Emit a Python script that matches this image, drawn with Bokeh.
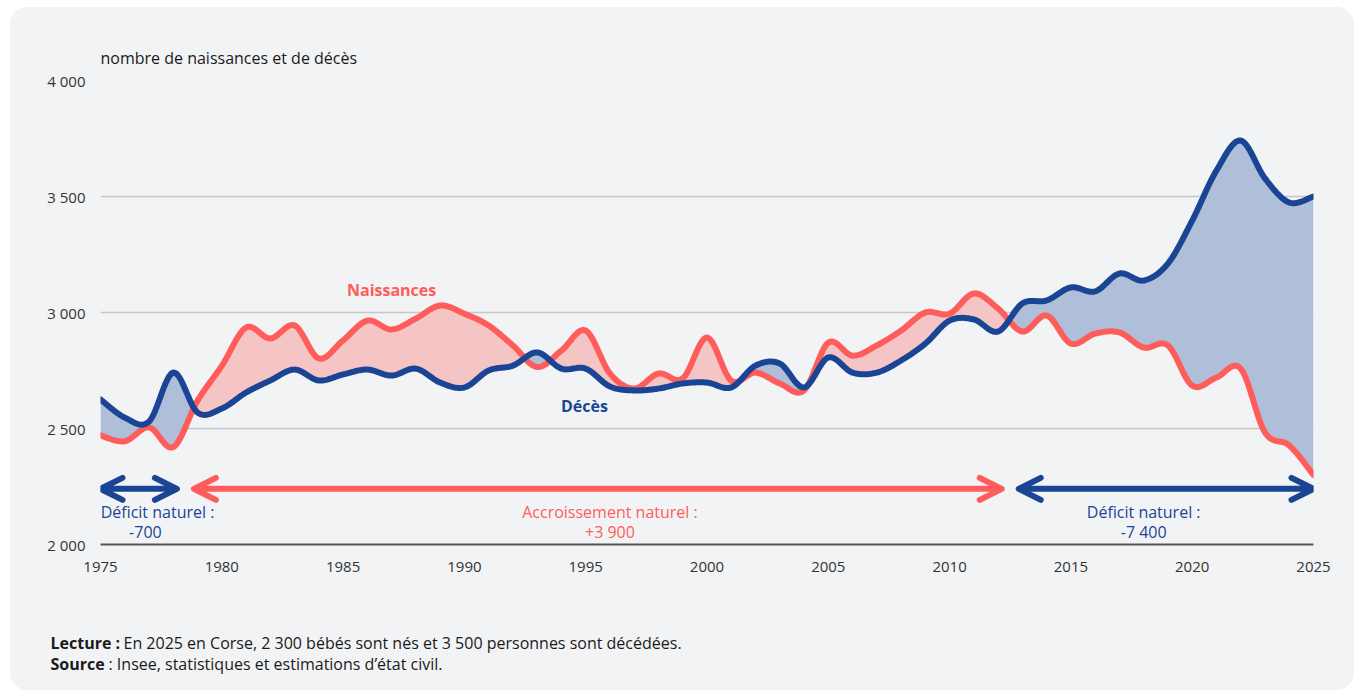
import numpy as np
from bokeh.plotting import figure
from bokeh.layouts import column
from bokeh.models import ColumnDataSource, Label, Arrow, OpenHead, FixedTicker, Range1d
from bokeh.embed import file_html
from bokeh.resources import INLINE

# ---- data ----
years = list(range(1975, 2026))
naissances = [2470, 2445, 2505, 2420, 2620, 2770, 2935, 2888, 2944, 2802,
              2880, 2965, 2927, 2974, 3030, 2995, 2944, 2858, 2765, 2836,
              2922, 2737, 2672, 2737, 2716, 2892, 2706, 2741, 2694, 2664,
              2870, 2814, 2858, 2922, 3000, 2995, 3082, 3017, 2918, 2987,
              2866, 2909, 2914, 2849, 2858, 2685, 2720, 2758, 2483, 2427, 2300]
deces = [2625, 2547, 2530, 2741, 2569, 2586, 2655, 2707, 2754, 2707,
         2733, 2754, 2728, 2758, 2698, 2677, 2750, 2771, 2828, 2758,
         2758, 2681, 2664, 2672, 2694, 2698, 2677, 2771, 2780, 2677,
         2806, 2741, 2741, 2793, 2866, 2965, 2970, 2918, 3039, 3052,
         3108, 3091, 3168, 3138, 3211, 3396, 3612, 3741, 3578, 3474, 3500]
x_ticks = list(range(1975, 2026, 5))
y_ticks = [2000, 2500, 3000, 3500, 4000]
y_tick_labels = ["2 000", "2 500", "3 000", "3 500", "4 000"]
periodes = [(1975, 1978), (1979, 2012), (2013, 2025)]
periode_titres = ["Déficit naturel :", "Accroissement naturel :", "Déficit naturel :"]
periode_soldes = ["-700", "+3 900", "-7 400"]

RED = "#ff5c5c"
BLUE = "#1a4594"
RED_FILL = "#f5c4c4"
BLUE_FILL = "#b0bfd9"
BG = "#f2f3f5"
FONT = "Open Sans"
TXT = "#1a1a1a"
W = 1344


def catmull_rom(xs, ys, n=20):
    xs = np.asarray(xs, float)
    ys = np.asarray(ys, float)
    px = np.concatenate([[xs[0]], xs, [xs[-1]]])
    py = np.concatenate([[ys[0]], ys, [ys[-1]]])
    t = np.linspace(0, 1, n, endpoint=False)
    ox, oy = [], []
    for i in range(1, len(px) - 2):
        for arr, out in ((px, ox), (py, oy)):
            p0, p1, p2, p3 = arr[i - 1], arr[i], arr[i + 1], arr[i + 2]
            out.extend(0.5 * (2 * p1 + (-p0 + p2) * t
                              + (2 * p0 - 5 * p1 + 4 * p2 - p3) * t ** 2
                              + (-p0 + 3 * p1 - 3 * p2 + p3) * t ** 3))
    ox.append(xs[-1]); oy.append(ys[-1])
    return np.array(ox), np.array(oy)


sx, sb = catmull_rom(years, naissances)
_, sd = catmull_rom(years, deces)
top = np.maximum(sb, sd)
src = ColumnDataSource(dict(x=sx, b=sb, d=sd, top=top))

p = figure(width=W, height=593, output_backend="svg", toolbar_location=None,
           x_range=Range1d(1975, 2025), y_range=Range1d(2000, 4000),
           min_border_left=90, min_border_right=41, min_border_top=73, min_border_bottom=56,
           background_fill_color=BG, border_fill_color=BG, outline_line_color=None)
p.frame_align = False

# title
p.title.text = "nombre de naissances et de décès"
p.title.align = "left"
p.title.text_font = FONT
p.title.text_font_size = "16px"
p.title.text_font_style = "normal"
p.title.text_color = TXT
p.title.standoff = 24

p.varea(x="x", y1="d", y2="top", source=src, fill_color=RED_FILL, fill_alpha=1)
p.varea(x="x", y1="b", y2="top", source=src, fill_color=BLUE_FILL, fill_alpha=1)
p.line(x="x", y="b", source=src, line_color=RED, line_width=6, line_cap="round", line_join="round")
p.line(x="x", y="d", source=src, line_color=BLUE, line_width=6, line_cap="round", line_join="round")

# axes
p.xaxis.ticker = FixedTicker(ticks=x_ticks)
p.xaxis.axis_line_color = "#555555"
p.xaxis.axis_line_width = 1.8
p.xaxis.major_tick_line_color = None
p.xaxis.minor_tick_line_color = None
p.xaxis.major_label_standoff = 11
p.xaxis.major_label_text_font = FONT
p.xaxis.major_label_text_font_size = "15px"
p.xaxis.major_label_text_color = "#333333"

p.yaxis.ticker = FixedTicker(ticks=y_ticks)
p.yaxis.major_label_overrides = {t: l for t, l in zip(y_ticks, y_tick_labels)}
p.yaxis.axis_line_color = None
p.yaxis.major_tick_line_color = None
p.yaxis.minor_tick_line_color = None
p.yaxis.major_label_standoff = 9
p.yaxis.major_label_text_font = FONT
p.yaxis.major_label_text_font_size = "15px"
p.yaxis.major_label_text_color = "#333333"

p.xgrid.grid_line_color = None
p.ygrid.grid_line_color = "#c4c6c9"
p.ygrid.grid_line_width = 1.5

# series labels
p.add_layout(Label(x=1987.0, y=3099, text="Naissances", text_font=FONT, text_font_style="bold",
                   text_font_size="16px", text_color=RED, text_align="center", text_baseline="middle"))
p.add_layout(Label(x=1994.95, y=2599, text="Décès", text_font=FONT, text_font_style="bold",
                   text_font_size="16px", text_color=BLUE, text_align="center", text_baseline="middle"))

# period arrows
arrow_y = 2240
gap = 0.35
colors = [BLUE, RED, BLUE]
title_x = [1977.35, 1996.0, 2018.0]
solde_x = [1976.85, 1996.0, 2018.0]
for i, ((a, b), c) in enumerate(zip(periodes, colors)):
    xs = max(a - 0.5 + gap, years[0])
    xe = min(b + 0.5 - gap, years[-1])
    p.add_layout(Arrow(x_start=xs, y_start=arrow_y, x_end=xe, y_end=arrow_y,
                       line_color=c, line_width=6,
                       start=OpenHead(size=22, line_color=c, line_width=6, line_cap="round", line_join="round"),
                       end=OpenHead(size=22, line_color=c, line_width=6, line_cap="round", line_join="round")))
    p.add_layout(Label(x=title_x[i], y=2142, text=periode_titres[i], text_font=FONT,
                       text_font_size="16px", text_color=c, text_align="center", text_baseline="middle"))
    p.add_layout(Label(x=solde_x[i], y=2056, text=periode_soldes[i], text_font=FONT,
                       text_font_size="16px", text_color=c, text_align="center", text_baseline="middle"))

# footer figure
f = figure(width=W, height=90, output_backend="svg", toolbar_location=None,
           x_range=Range1d(0, W), y_range=Range1d(0, 90), x_axis_type=None, y_axis_type=None,
           min_border=0, background_fill_color=BG, border_fill_color=BG, outline_line_color=None)
f.frame_align = False
f.xgrid.grid_line_color = None
f.ygrid.grid_line_color = None
f.add_layout(Label(x=40, y=48, text="Lecture :", text_font=FONT, text_font_style="bold",
                   text_font_size="16px", text_color=TXT, text_baseline="middle"))
f.add_layout(Label(x=113, y=48, text="En 2025 en Corse, 2 300 bébés sont nés et 3 500 personnes sont décédées.",
                   text_font=FONT, text_font_size="16px", text_color=TXT, text_baseline="middle"))
f.add_layout(Label(x=40, y=27, text="Source", text_font=FONT, text_font_style="bold",
                   text_font_size="16px", text_color=TXT, text_baseline="middle"))
f.add_layout(Label(x=98, y=27, text=": Insee, statistiques et estimations d\u2019état civil.",
                   text_font=FONT, text_font_size="16px", text_color=TXT, text_baseline="middle"))

layout = column(p, f, spacing=0,
                styles={"margin-left": "10px", "margin-top": "7px", "background-color": BG,
                        "border-radius": "18px", "overflow": "hidden"})

open("out.html", "w").write(file_html(layout, INLINE))
